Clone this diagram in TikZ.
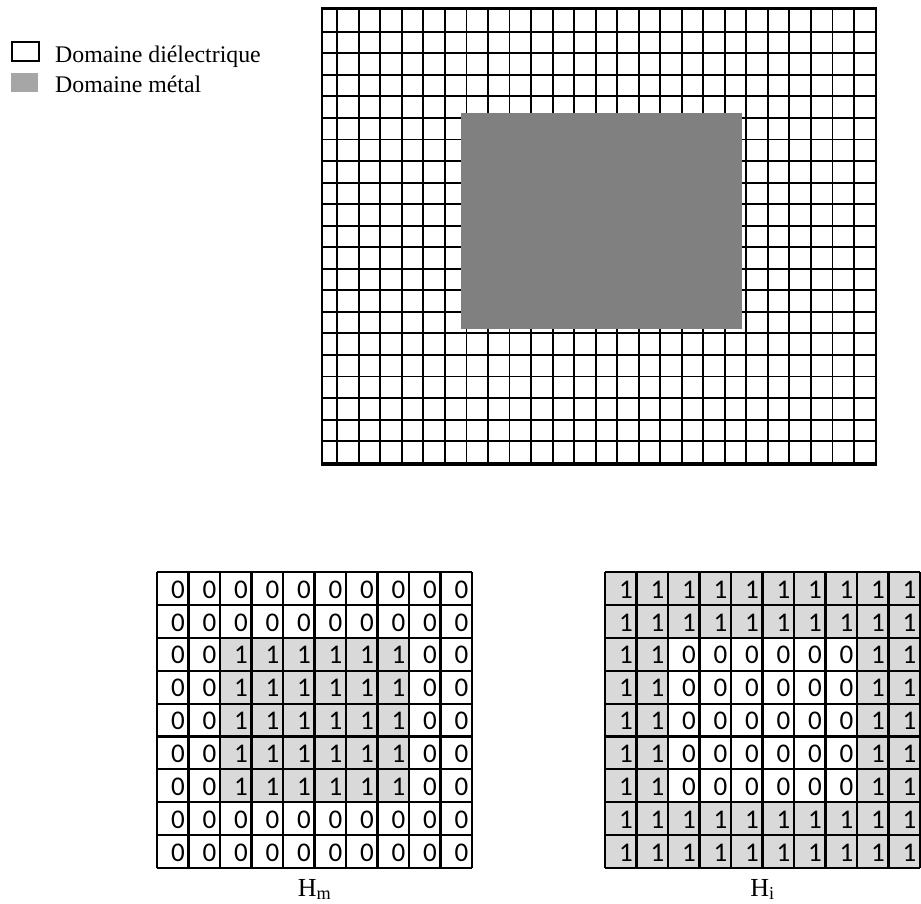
\documentclass[tikz,border=0pt]{standalone}
\usepackage{fontspec}
\setmainfont{Liberation Serif}
\newfontfamily\cellfont{Carlito}
\usetikzlibrary{positioning}

\begin{document}
\begin{tikzpicture}[x=1pt, y=-1pt,
        gridline/.style={line width=1.9pt},
        frameline/.style={line width=2.8pt},
        tabline/.style={line width=2.1pt},
        legendbox/.style={minimum width=27pt, minimum height=19pt, inner sep=0pt, anchor=north west},
        legendtext/.style={font=\fontsize{23.8}{27}\selectfont, inner sep=0pt, anchor=base west},
        cell/.style={font=\cellfont\fontsize{27}{27}\selectfont, inner sep=0pt, anchor=east},
        metalfill/.style={fill=black!15},
        tablabel/.style={font=\fontsize{26}{28}\selectfont, inner sep=0pt}
    ]
    \useasboundingbox (0,0) rectangle (921,903);

    % legend
    \node[legendbox, draw, line width=1.6pt] (diel) at (11,41) {};
    \node[legendbox, fill=gray!70, below=11pt of diel.south west, anchor=north west] (metal) {};
    \node[legendtext] (diel-text) at (55,62) {Domaine diélectrique};
    \node[legendtext] (metal-text) at (55,92) {Domaine métal};

    % maillage
    \foreach \i in {0,...,24}
        \draw[gridline] ({337.3+21.53*\i},8.3) -- ({337.3+21.53*\i},465);
    \foreach \j in {0,...,20}
        \draw[gridline] (322,{31.7+21.55*\j}) -- (876,{31.7+21.55*\j});
    \draw[frameline] (322,8.3) rectangle (876,465);
    \fill[black!50] (460.7,113.3) rectangle (741.7,329);

    % tables Hm et Hi
    \foreach \tab/\xo/\inv in {hm/157/0, hi/605/1} {
        \foreach \r in {1,...,9} {
            \foreach \c in {1,...,10} {
                \pgfmathtruncatemacro\inside{(\r>2)&&(\r<8)&&(\c>2)&&(\c<9)}
                \pgfmathtruncatemacro\val{abs(\inside-\inv)}
                \ifnum\val=1
                    \fill[metalfill] ({\xo+31.5*(\c-1)},{572+32.9*(\r-1)}) rectangle ({\xo+31.5*\c},{572+32.9*\r});
                \fi
                \node[cell] (\tab-\r-\c) at ({\xo+31.5*\c-3.5},{572+32.9*(\r-0.5)+1}) {\val};
            }
        }
        \foreach \c in {0,...,10}
            \draw[tabline] ({\xo+31.5*\c},572) -- ({\xo+31.5*\c},868.1);
        \foreach \r in {0,...,9}
            \draw[tabline] (\xo,{572+32.9*\r}) -- ({\xo+315},{572+32.9*\r});
        \coordinate (\tab-base) at ({\xo+157.5},868);
    }

    \node[tablabel, below=11pt of hm-base] (hm-label) {H\textsubscript{m}};
    \node[tablabel, below=11pt of hi-base] (hi-label) {H\textsubscript{i}};
\end{tikzpicture}
\end{document}
